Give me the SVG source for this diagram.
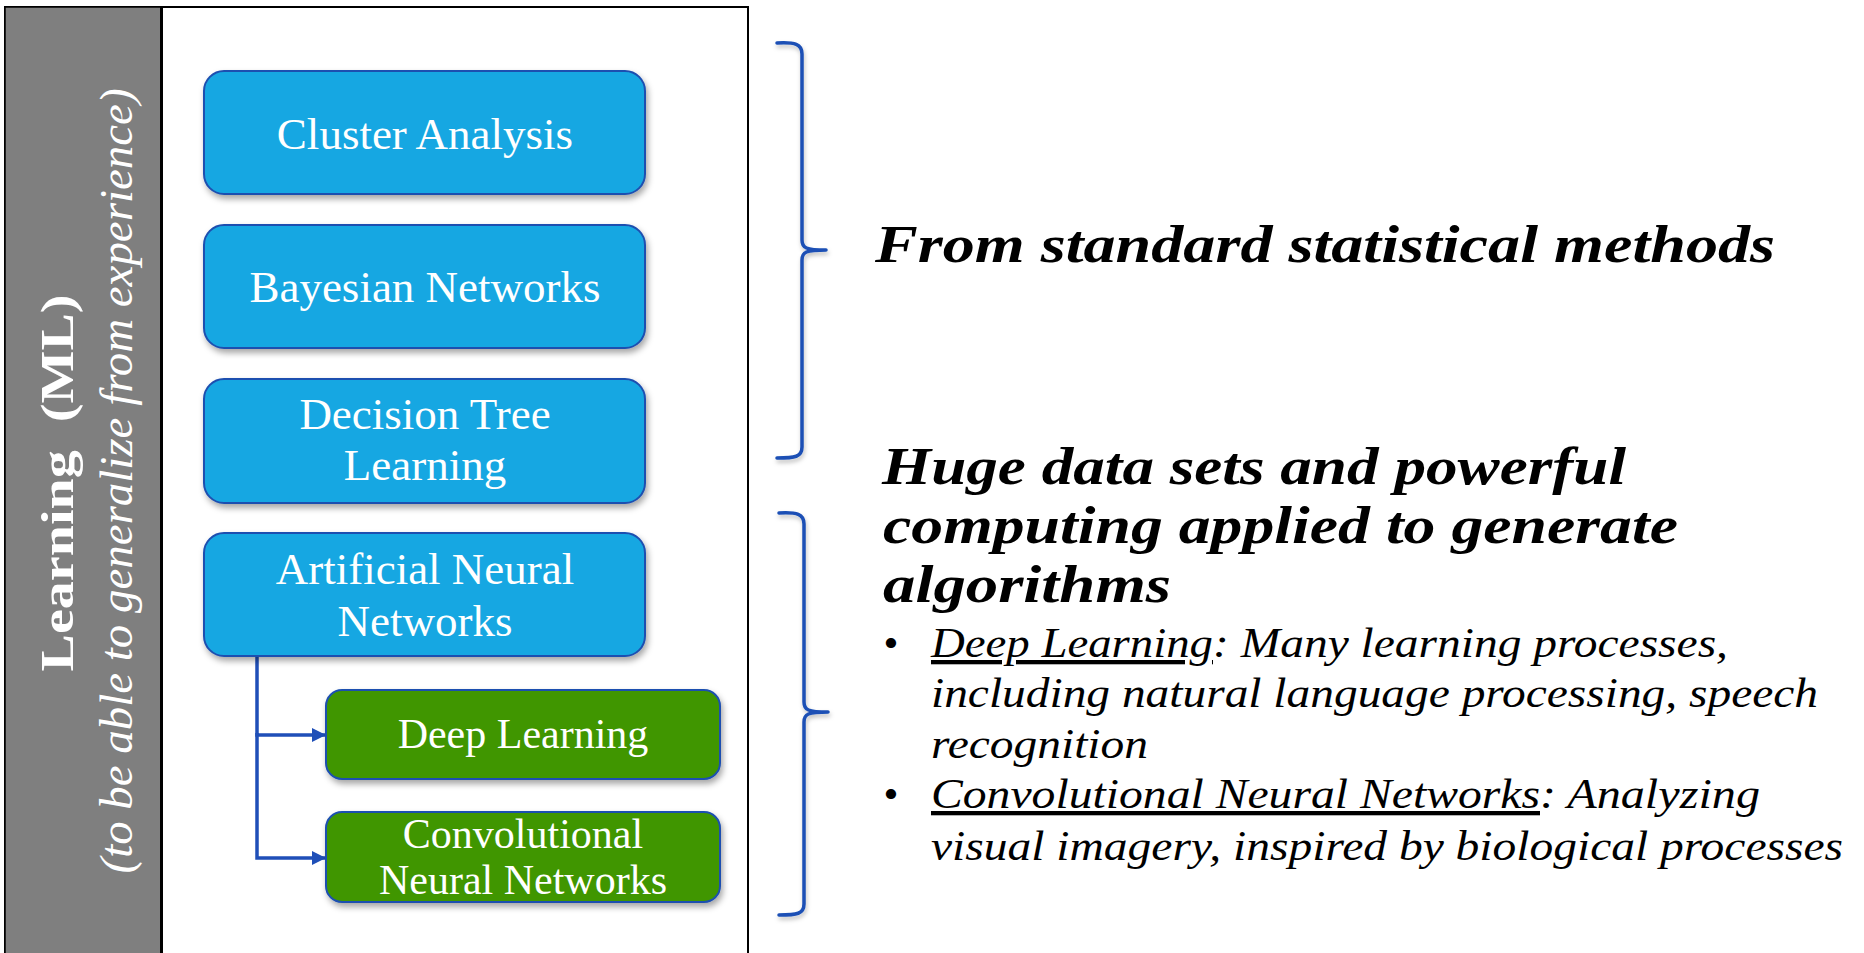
<svg xmlns="http://www.w3.org/2000/svg" width="1864" height="953" viewBox="0 0 1864 953">
  <defs>
    <filter id="shadow" x="-10%" y="-10%" width="125%" height="135%">
      <feDropShadow dx="2" dy="4" stdDeviation="3" flood-color="#000" flood-opacity="0.35"/>
    </filter>
    <filter id="bshadow" x="-50%" y="-5%" width="200%" height="115%">
      <feDropShadow dx="1" dy="3" stdDeviation="2" flood-color="#000" flood-opacity="0.25"/>
    </filter>
    <marker id="arrow" markerWidth="14" markerHeight="14" refX="13" refY="7" orient="auto" markerUnits="userSpaceOnUse">
      <path d="M0,0 L14,7 L0,14 Z" fill="#1F4FB8"/>
    </marker>
    <style>
      .blue { fill: #19A7E2; stroke: #1D50B0; stroke-width: 2; }
      .green { fill: #419600; stroke: #1D50B0; stroke-width: 2; }
      .lbl { font-family: "Liberation Serif", "Times New Roman", serif; fill: #FFFFFF; text-anchor: middle; }
      .big { font-size: 45px; }
      .small { font-size: 42px; }
      .side { font-family: "Liberation Serif", "Times New Roman", serif; fill: #FFFFFF; text-anchor: middle; }
      .head { font-family: "Liberation Serif", "Times New Roman", serif; font-size: 52px; font-weight: bold; font-style: italic; fill: #000; }
      .body { font-family: "Liberation Serif", "Times New Roman", serif; font-size: 43px; font-style: italic; fill: #000; }
      .brace { fill: none; stroke: #1A4FB5; stroke-width: 3.5; stroke-linecap: round; stroke-linejoin: round; }
      .conn { fill: none; stroke: #1F4FB8; stroke-width: 3.5; }
    </style>
  </defs>

  <rect x="0" y="0" width="1864" height="953" fill="#FFFFFF"/>

  <g id="frame">
    <rect x="5" y="7" width="743" height="960" fill="#FFFFFF" stroke="#000" stroke-width="2"/>
    <rect x="5" y="7" width="156" height="960" fill="#7F7F7F" stroke="#000" stroke-width="1.5"/>
    <line x1="161.5" y1="7" x2="161.5" y2="953" stroke="#000" stroke-width="3"/>
    <text class="side" transform="translate(73,483) rotate(-90)" font-size="46" font-weight="bold" textLength="377" lengthAdjust="spacingAndGlyphs" style="white-space:pre">Learning  (ML)</text>
    <text class="side" transform="translate(132,481) rotate(-90)" font-size="46" font-style="italic" textLength="785" lengthAdjust="spacingAndGlyphs">(to be able to generalize from experience)</text>
  </g>

  <g id="connectors">
    <polyline class="conn" points="257,656 257,735 325,735" marker-end="url(#arrow)"/>
    <polyline class="conn" points="257,733 257,858 325,858" marker-end="url(#arrow)"/>
  </g>

  <g id="cluster-analysis">
    <rect class="blue" x="204" y="71" width="441" height="123" rx="20" filter="url(#shadow)"/>
    <text class="lbl big" x="425" y="149">Cluster Analysis</text>
  </g>
  <g id="bayesian-networks">
    <rect class="blue" x="204" y="225" width="441" height="123" rx="20" filter="url(#shadow)"/>
    <text class="lbl big" x="425" y="302">Bayesian Networks</text>
  </g>
  <g id="decision-tree">
    <rect class="blue" x="204" y="379" width="441" height="124" rx="20" filter="url(#shadow)"/>
    <text class="lbl big" x="425" y="429">Decision Tree</text>
    <text class="lbl big" x="425" y="480">Learning</text>
  </g>
  <g id="ann">
    <rect class="blue" x="204" y="533" width="441" height="123" rx="20" filter="url(#shadow)"/>
    <text class="lbl big" x="425" y="584">Artificial Neural</text>
    <text class="lbl big" x="425" y="636">Networks</text>
  </g>
  <g id="deep-learning">
    <rect class="green" x="326" y="690" width="394" height="89" rx="16" filter="url(#shadow)"/>
    <text class="lbl small" x="523" y="748">Deep Learning</text>
  </g>
  <g id="cnn">
    <rect class="green" x="326" y="812" width="394" height="90" rx="16" filter="url(#shadow)"/>
    <text class="lbl small" x="523" y="848">Convolutional</text>
    <text class="lbl small" x="523" y="894">Neural Networks</text>
  </g>

  <g id="brace-top" filter="url(#bshadow)">
    <path class="brace" d="M777,43 C795,42 802,44 802,54 L802,240 C802,248 806,250 826,250 C806,250 802,252 802,260 L802,447 C802,457 795,458 777,458"/>
  </g>
  <g id="brace-bottom" filter="url(#bshadow)">
    <path class="brace" d="M779,513 C797,512 804,514 804,524 L804,702 C804,710 808,712 828,712 C808,712 804,714 804,722 L804,904 C804,914 797,915 779,915"/>
  </g>

  <g id="text-statistical">
    <text class="head" x="875" y="262" textLength="900" lengthAdjust="spacingAndGlyphs">From standard statistical methods</text>
  </g>

  <g id="text-bigdata">
    <text class="head" x="882" y="484" textLength="744" lengthAdjust="spacingAndGlyphs">Huge data sets and powerful</text>
    <text class="head" x="883" y="543" textLength="795" lengthAdjust="spacingAndGlyphs">computing applied to generate</text>
    <text class="head" x="883" y="602" textLength="288" lengthAdjust="spacingAndGlyphs">algorithms</text>

    <text class="body" x="883" y="657" font-style="normal">•</text>
    <text class="body" x="931" y="657" textLength="282" lengthAdjust="spacingAndGlyphs" text-decoration="underline">Deep Learning</text>
    <text class="body" x="1213" y="657" textLength="515" lengthAdjust="spacingAndGlyphs">: Many learning processes,</text>
    <text class="body" x="931" y="707" textLength="887" lengthAdjust="spacingAndGlyphs">including natural language processing, speech</text>
    <text class="body" x="931" y="758" textLength="217" lengthAdjust="spacingAndGlyphs">recognition</text>

    <text class="body" x="883" y="808" font-style="normal">•</text>
    <text class="body" x="931" y="808" textLength="609" lengthAdjust="spacingAndGlyphs" text-decoration="underline">Convolutional Neural Networks</text>
    <text class="body" x="1540" y="808" textLength="220" lengthAdjust="spacingAndGlyphs">: Analyzing</text>
    <text class="body" x="931" y="860" textLength="912" lengthAdjust="spacingAndGlyphs">visual imagery, inspired by biological processes</text>
  </g>
</svg>
